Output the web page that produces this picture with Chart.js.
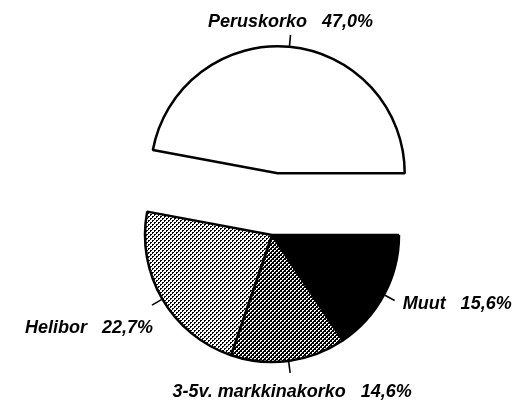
<!DOCTYPE html>
<html><head><meta charset="utf-8">
<script src="https://cdn.jsdelivr.net/npm/chart.js@4.4.1/dist/chart.umd.min.js"></script>
<style>html,body{margin:0;padding:0;background:#fff}canvas{display:block}</style>
</head><body>
<canvas id="c" width="525" height="405"></canvas>
<script>
// ---- data ----
const categories = ['Peruskorko', 'Muut', '3-5v. markkinakorko', 'Helibor'];
const shares = [47.0, 15.6, 14.6, 22.7];
const valueLabels = ['47,0%', '15,6%', '14,6%', '22,7%'];

// ---- styles ----
const canvas = document.getElementById('c');
const ctx = canvas.getContext('2d');
function dotPattern(dark) {
  const t = document.createElement('canvas'); t.width = 4; t.height = 4;
  const g = t.getContext('2d');
  g.fillStyle = dark ? '#000' : '#fff'; g.fillRect(0, 0, 4, 4);
  g.fillStyle = dark ? '#fff' : '#000';
  [[0,0],[1,0],[0,1],[2,2],[3,2],[2,3]].forEach(([x, y]) => g.fillRect(x, y, 1, 1));
  return ctx.createPattern(t, 'repeat');
}
const fills = ['#ffffff', '#000000', dotPattern(true), dotPattern(false)];
const explodePx = [62, 0, 0, 0];
const labelPlacement = [
  {align: 'center', dx: 0, dy: -8},
  {align: 'left', dx: 8, dy: 9},
  {align: 'center', dx: 2, dy: 24},
  {align: 'right', dx: 1, dy: 28}
];

const explodePlugin = {
  id: 'explode',
  afterDatasetUpdate(chart, args) {
    args.meta.data.forEach((arc, i) => {
      const d = explodePx[i] || 0;
      if (!d) return;
      const mid = (arc.startAngle + arc.endAngle) / 2;
      arc.x += Math.cos(mid) * d;
      arc.y += Math.sin(mid) * d;
    });
  }
};

const labelPlugin = {
  id: 'sliceLabels',
  afterDatasetsDraw(chart) {
    const meta = chart.getDatasetMeta(0);
    const g = chart.ctx;
    g.save();
    g.font = 'italic bold 18px "Liberation Sans", Arial, sans-serif';
    g.fillStyle = '#000'; g.strokeStyle = '#000'; g.lineWidth = 1.6;
    meta.data.forEach((arc, i) => {
      const mid = (arc.startAngle + arc.endAngle) / 2;
      const r = arc.outerRadius;
      const x0 = arc.x + Math.cos(mid) * (r + 1), y0 = arc.y + Math.sin(mid) * (r + 1);
      const x1 = arc.x + Math.cos(mid) * (r + 12), y1 = arc.y + Math.sin(mid) * (r + 12);
      g.beginPath(); g.moveTo(x0, y0); g.lineTo(x1, y1); g.stroke();
      const p = labelPlacement[i];
      g.textAlign = p.align; g.textBaseline = 'alphabetic';
      g.fillText(categories[i] + '   ' + valueLabels[i], x1 + p.dx, y1 + p.dy);
    });
    g.restore();
  }
};

new Chart(ctx, {
  type: 'pie',
  data: {
    labels: categories,
    datasets: [{
      data: shares,
      backgroundColor: fills,
      borderColor: '#000',
      borderWidth: 2.5,
      hoverOffset: 0
    }]
  },
  options: {
    responsive: false,
    animation: false,
    events: [],
    rotation: 280.6,
    radius: 127,
    layout: {padding: {left: 19, top: 65, right: 0, bottom: 0}},
    plugins: {legend: {display: false}, tooltip: {enabled: false}}
  },
  plugins: [explodePlugin, labelPlugin]
});
</script>
</body></html>
